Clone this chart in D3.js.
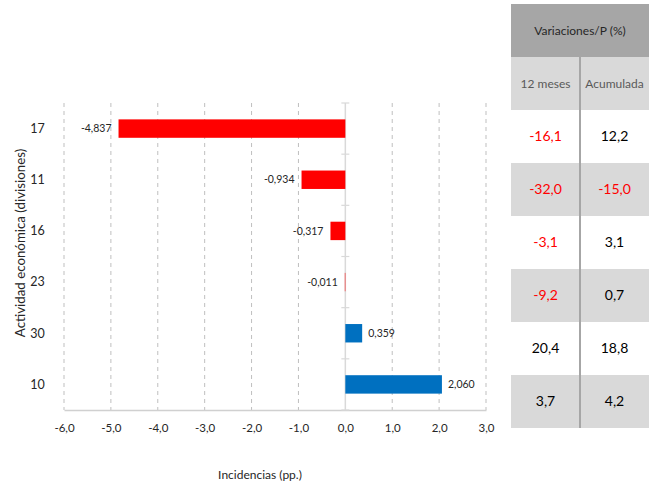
<!DOCTYPE html>
<html>
<head>
<meta charset="utf-8">
<script src="https://cdn.jsdelivr.net/npm/d3@7"></script>
<style>
  body { margin: 0; background: #fff; }
  svg { display: block; font-family: Lato, "Open Sans", sans-serif; }
</style>
</head>
<body>
<div id="chart"></div>
<script>
// data
const categories = ["17", "11", "16", "23", "30", "10"];
const incidencias = [-4.837, -0.934, -0.317, -0.011, 0.359, 2.060];
const var12meses = [-16.1, -32.0, -3.1, -9.2, 20.4, 3.7];
const varAcumulada = [12.2, -15.0, 3.1, 0.7, 18.8, 4.2];
const xTicks = [-6, -5, -4, -3, -2, -1, 0, 1, 2, 3];
const tableHeader = "Variaciones/P (%)";
const tableCols = ["12 meses", "Acumulada"];

const loc = d3.formatLocale({ decimal: ",", thousands: ".", grouping: [3], currency: ["", ""], minus: "-" });
const f1 = loc.format(".1f");
const f3 = loc.format(".3f");

const W = 655, H = 485;
const svg = d3.select("#chart").append("svg").attr("width", W).attr("height", H);

// ---- bar chart ----
const plot = { left: 64, right: 486, top: 103, bottom: 410 };

const x = d3.scaleLinear().domain([-6, 3]).range([plot.left, plot.right]);
const y = d3.scaleBand().domain(categories).range([plot.top, plot.bottom])
    .paddingInner(0.64).paddingOuter(0.32);
const yStep = d3.scaleBand().domain(categories).range([plot.top, plot.bottom]);

// dashed vertical gridlines
svg.append("g")
    .selectAll("line")
    .data(xTicks.filter(d => d !== 0))
    .enter().append("line")
    .attr("x1", d => x(d)).attr("x2", d => x(d))
    .attr("y1", plot.top).attr("y2", plot.bottom)
    .attr("stroke", "#bfbfbf")
    .attr("stroke-dasharray", "4,4");

// bottom axis
const xAxis = svg.append("g")
    .attr("transform", `translate(0,${plot.bottom})`)
    .call(d3.axisBottom(x).tickValues(xTicks).tickSize(0).tickPadding(14).tickFormat(f1));
xAxis.select(".domain").attr("stroke", "#d0d0d0").attr("stroke-width", 1.5);
xAxis.selectAll("text").attr("font-family", "Lato, sans-serif").attr("font-size", "11.5px").attr("fill", "#262626");

// zero axis with category ticks
const zero = svg.append("g").attr("transform", `translate(${x(0)},0)`);
zero.append("line")
    .attr("y1", plot.top).attr("y2", plot.bottom)
    .attr("stroke", "#d9d9d9").attr("stroke-width", 1.5);
zero.selectAll(".tk")
    .data(categories.map(c => yStep(c)).concat([plot.bottom]))
    .enter().append("line")
    .attr("x1", -4).attr("x2", 4)
    .attr("y1", d => d).attr("y2", d => d)
    .attr("stroke", "#d9d9d9").attr("stroke-width", 1.2);

// category labels
svg.append("g")
    .selectAll("text")
    .data(categories)
    .enter().append("text")
    .attr("x", 37.5)
    .attr("y", d => y(d) + y.bandwidth() / 2)
    .attr("dy", "0.35em")
    .attr("text-anchor", "middle")
    .attr("font-size", "12.5px")
    .attr("fill", "#262626")
    .text(d => d);

const rows = categories.map((c, i) => ({ cat: c, v: incidencias[i] }));

// bars
svg.append("g")
    .selectAll("rect")
    .data(rows)
    .enter().append("rect")
    .attr("x", d => x(Math.min(0, d.v)))
    .attr("y", d => y(d.cat))
    .attr("width", d => Math.abs(x(d.v) - x(0)))
    .attr("height", y.bandwidth())
    .attr("fill", d => d.v < 0 ? "#ff0000" : "#0070c0");

// value labels
svg.append("g")
    .selectAll("text")
    .data(rows)
    .enter().append("text")
    .attr("x", d => d.v < 0 ? x(d.v) - 7 : x(d.v) + 6)
    .attr("y", d => y(d.cat) + y.bandwidth() / 2)
    .attr("dy", "0.35em")
    .attr("text-anchor", d => d.v < 0 ? "end" : "start")
    .attr("font-size", "10.5px")
    .attr("fill", "#262626")
    .text(d => f3(d.v));

// axis titles
svg.append("text")
    .attr("x", 260).attr("y", 475)
    .attr("dy", "0.35em")
    .attr("text-anchor", "middle")
    .attr("font-size", "12px")
    .attr("fill", "#262626")
    .text("Incidencias (pp.)");

svg.append("text")
    .attr("transform", "translate(20,243) rotate(-90)")
    .attr("dy", "0.35em")
    .attr("text-anchor", "middle")
    .attr("font-size", "13.3px")
    .attr("fill", "#262626")
    .text("Actividad económica (divisiones)");

// ---- table ----
const tbl = { left: 511, right: 649, mid: 580, top: 4, bottom: 428 };
const rowIdx = d3.range(categories.length + 2);
const ry = d3.scaleBand().domain(rowIdx).range([tbl.top, tbl.bottom]);
const colX = [(tbl.left + tbl.mid) / 2, (tbl.mid + tbl.right) / 2];

svg.append("g")
    .selectAll("rect")
    .data(rowIdx)
    .enter().append("rect")
    .attr("x", tbl.left)
    .attr("y", d => ry(d))
    .attr("width", tbl.right - tbl.left)
    .attr("height", ry.bandwidth())
    .attr("fill", d => d === 0 ? "#a6a6a6" : d % 2 === 1 ? "#d9d9d9" : "#ffffff");

svg.append("line")
    .attr("x1", tbl.mid).attr("x2", tbl.mid)
    .attr("y1", ry(1)).attr("y2", tbl.bottom)
    .attr("stroke", "#a6a6a6").attr("stroke-width", 2);

svg.append("text")
    .attr("x", (tbl.left + tbl.right) / 2)
    .attr("y", ry(0) + ry.bandwidth() / 2)
    .attr("dy", "0.35em")
    .attr("text-anchor", "middle")
    .attr("font-size", "12px")
    .attr("fill", "#262626")
    .text(tableHeader);

svg.append("g")
    .selectAll("text")
    .data(tableCols)
    .enter().append("text")
    .attr("x", (d, i) => colX[i])
    .attr("y", ry(1) + ry.bandwidth() / 2)
    .attr("dy", "0.35em")
    .attr("text-anchor", "middle")
    .attr("font-size", "12px")
    .attr("fill", "#595959")
    .text(d => d);

const cells = [];
categories.forEach((c, i) => {
    cells.push({ row: i + 2, col: 0, v: var12meses[i] });
    cells.push({ row: i + 2, col: 1, v: varAcumulada[i] });
});

svg.append("g")
    .selectAll("text")
    .data(cells)
    .enter().append("text")
    .attr("x", d => colX[d.col])
    .attr("y", d => ry(d.row) + ry.bandwidth() / 2)
    .attr("dy", "0.35em")
    .attr("text-anchor", "middle")
    .attr("font-size", "14px")
    .attr("fill", d => d.v < 0 ? "#ff0000" : "#000000")
    .text(d => f1(d.v));
</script>
</body>
</html>
